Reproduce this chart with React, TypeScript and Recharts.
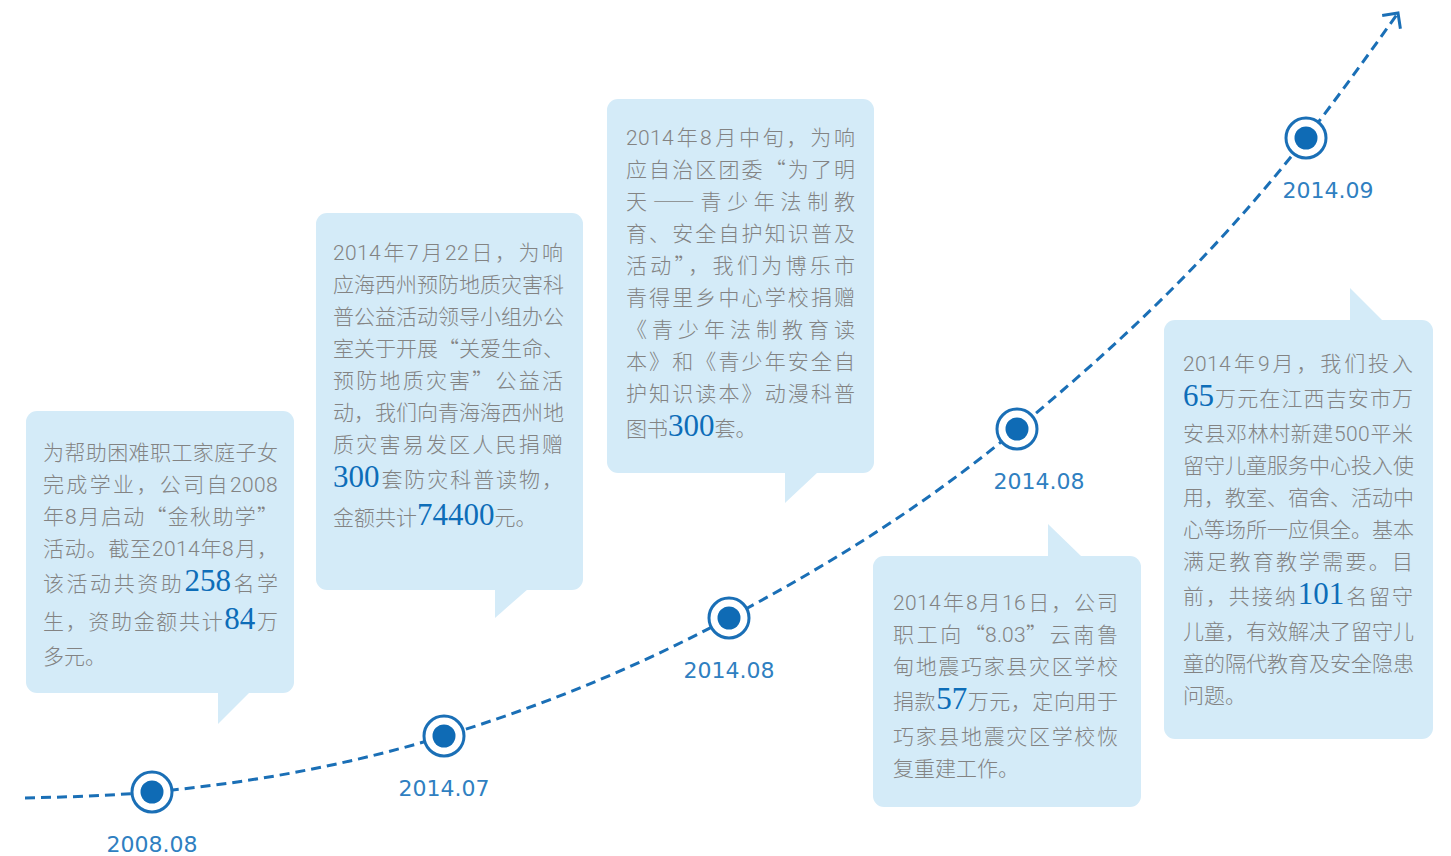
import { LineChart, Line, XAxis, YAxis } from "recharts";

// timeline path: x position and height above the bottom edge
const timelineX = [25, 152, 444, 729, 1017, 1306, 1398];
const timelineY = [58, 64, 120, 238, 427, 718, 843];
const timelineLabels = ["", "2008.08", "2014.07", "2014.08", "2014.08", "2014.09", ""];

// callout texts, one entry per printed line, [n] = highlighted number
const note2008 = [
  "为帮助困难职工家庭子女",
  "完成学业，公司自2008",
  "年8月启动“金秋助学”",
  "活动。截至2014年8月，",
  "该活动共资助[258]名学",
  "生，资助金额共计[84]万",
  "多元。",
];
const note201407 = [
  "2014年7月22日，为响",
  "应海西州预防地质灾害科",
  "普公益活动领导小组办公",
  "室关于开展“关爱生命、",
  "预防地质灾害”公益活",
  "动，我们向青海海西州地",
  "质灾害易发区人民捐赠",
  "[300]套防灾科普读物，",
  "金额共计[74400]元。",
];
const note201408a = [
  "2014年8月中旬，为响",
  "应自治区团委“为了明",
  "天——青少年法制教",
  "育、安全自护知识普及",
  "活动”，我们为博乐市",
  "青得里乡中心学校捐赠",
  "《青少年法制教育读",
  "本》和《青少年安全自",
  "护知识读本》动漫科普",
  "图书[300]套。",
];
const note201408b = [
  "2014年8月16日，公司",
  "职工向“8.03”云南鲁",
  "甸地震巧家县灾区学校",
  "捐款[57]万元，定向用于",
  "巧家县地震灾区学校恢",
  "复重建工作。",
];
const note201409 = [
  "2014年9月，我们投入",
  "[65]万元在江西吉安市万",
  "安县邓林村新建500平米",
  "留守儿童服务中心投入使",
  "用，教室、宿舍、活动中",
  "心等场所一应俱全。基本",
  "满足教育教学需要。目",
  "前，共接纳[101]名留守",
  "儿童，有效解决了留守儿",
  "童的隔代教育及安全隐患",
  "问题。",
];

const LINE_BLUE = "#1a6fb6";
const DOT_BLUE = "#0f6bb5";
const LABEL_BLUE = "#2f7fc1";
const BOX_FILL = "#d4ebf8";
const TEXT_GRAY = "#838383";
const NUM_BLUE = "#0d6db8";

const data = timelineX.map((x, i) => ({ x, y: timelineY[i], label: timelineLabels[i] }));

const callouts = [
  { lines: note2008, left: 26, top: 411, width: 268, height: 282, tail: { x1: 218, x2: 250, tip: 724, up: false }, tx: 43, ty: 437, tw: 235 },
  { lines: note201407, left: 316, top: 213, width: 267, height: 377, tail: { x1: 495, x2: 528, tip: 618, up: false }, tx: 333, ty: 237, tw: 230 },
  { lines: note201408a, left: 607, top: 99, width: 267, height: 374, tail: { x1: 785, x2: 818, tip: 503, up: false }, tx: 626, ty: 122, tw: 229 },
  { lines: note201408b, left: 873, top: 556, width: 268, height: 251, tail: { x1: 1048, x2: 1082, tip: 524, up: true }, tx: 893, ty: 587, tw: 225 },
  { lines: note201409, left: 1164, top: 320, width: 269, height: 419, tail: { x1: 1350, x2: 1383, tip: 288, up: true }, tx: 1183, ty: 348, tw: 230 },
];

const fontCss = `
@font-face { font-family: 'NoteLatin'; src: local('Roboto Light'), local('Roboto-Light'), local('Lato Light'), local('Lato-Light'), local('Liberation Sans'); unicode-range: U+0020-007E; }
`;

function MilestoneDot(props: any) {
  const { cx, cy, index, payload, points } = props;
  const key = `m-${index}`;
  if (cx == null || cy == null) return <g key={key} />;
  if (index === data.length - 1) {
    let ang = Math.atan2(-125, 92);
    if (points && points[index - 1]) {
      const p = points[index - 1];
      ang = Math.atan2(cy - p.y, cx - p.x);
    }
    const back = ang + Math.PI;
    const len = 16;
    const a1 = back - Math.PI / 4;
    const a2 = back + Math.PI / 4;
    return (
      <path
        key={key}
        d={`M${cx + len * Math.cos(a1)},${cy + len * Math.sin(a1)} L${cx},${cy} L${cx + len * Math.cos(a2)},${cy + len * Math.sin(a2)}`}
        fill="none"
        stroke={LINE_BLUE}
        strokeWidth={3}
      />
    );
  }
  if (!payload.label) return <g key={key} />;
  const dx = index >= 4 ? 22 : 0;
  return (
    <g key={key}>
      <circle cx={cx} cy={cy} r={20} fill="#fff" stroke={LINE_BLUE} strokeWidth={3} />
      <circle cx={cx} cy={cy} r={11.5} fill={DOT_BLUE} />
      <text
        x={cx + dx}
        y={cy + 60}
        textAnchor="middle"
        fontFamily="DejaVu Sans"
        fontSize={22}
        fill={LABEL_BLUE}
      >
        {payload.label}
      </text>
    </g>
  );
}

function NoteLine({ text, last }: { text: string; last: boolean }) {
  const parts = text.split(/\[(\d+)\]/);
  const hasNum = parts.length > 1;
  const h = hasNum ? 38 : 32;
  return (
    <div
      style={{
        height: h,
        lineHeight: `${h}px`,
        whiteSpace: "nowrap",
        textAlign: "justify",
        textAlignLast: last ? "left" : "justify",
      }}
    >
      {parts.map((p, i) =>
        i % 2 === 1 ? (
          <span
            key={i}
            style={{
              fontFamily: "'Liberation Serif', 'DejaVu Serif', serif",
              fontWeight: 400,
              fontSize: 31,
              color: NUM_BLUE,
              lineHeight: 1,
            }}
          >
            {p}
          </span>
        ) : (
          <span key={i}>{p}</span>
        )
      )}
    </div>
  );
}

function Callout({ c }: { c: (typeof callouts)[number] }) {
  const t = c.tail;
  const tailStyle: any = t.up
    ? {
        left: t.x1,
        top: t.tip,
        width: t.x2 - t.x1,
        height: c.top - t.tip + 1,
        clipPath: "polygon(0 0, 100% 100%, 0 100%)",
      }
    : {
        left: t.x1,
        top: c.top + c.height - 1,
        width: t.x2 - t.x1,
        height: t.tip - (c.top + c.height) + 1,
        clipPath: "polygon(0 0, 100% 0, 0 100%)",
      };
  return (
    <>
      <div
        style={{
          position: "absolute",
          left: c.left,
          top: c.top,
          width: c.width,
          height: c.height,
          background: BOX_FILL,
          borderRadius: 11,
        }}
      />
      <div style={{ position: "absolute", background: BOX_FILL, ...tailStyle }} />
      <div
        lang="zh-CN"
        style={{
          position: "absolute",
          left: c.tx,
          top: c.ty,
          width: c.tw,
          fontFamily: "NoteLatin, 'Noto Sans CJK SC', sans-serif",
          fontWeight: 300,
          fontSize: 21,
          color: TEXT_GRAY,
        }}
      >
        {c.lines.map((l, i) => (
          <NoteLine key={i} text={l} last={i === c.lines.length - 1} />
        ))}
      </div>
    </>
  );
}

export default function App() {
  return (
    <div
      style={{
        position: "absolute",
        left: 0,
        top: 0,
        width: 1451,
        height: 856,
        background: "#fff",
        overflow: "hidden",
      }}
    >
      <style>{fontCss}</style>
      {callouts.map((c, i) => (
        <Callout key={i} c={c} />
      ))}
      <div style={{ position: "absolute", left: 0, top: 0 }}>
        <LineChart width={1451} height={856} data={data} margin={{ top: 0, right: 0, bottom: 0, left: 0 }}>
          <XAxis dataKey="x" type="number" domain={[0, 1451]} hide />
          <YAxis type="number" domain={[0, 856]} hide />
          <Line
            dataKey="y"
            type="monotone"
            stroke={LINE_BLUE}
            strokeWidth={3}
            strokeDasharray="10 6"
            dot={MilestoneDot}
            activeDot={false}
            isAnimationActive={false}
          />
        </LineChart>
      </div>
    </div>
  );
}
